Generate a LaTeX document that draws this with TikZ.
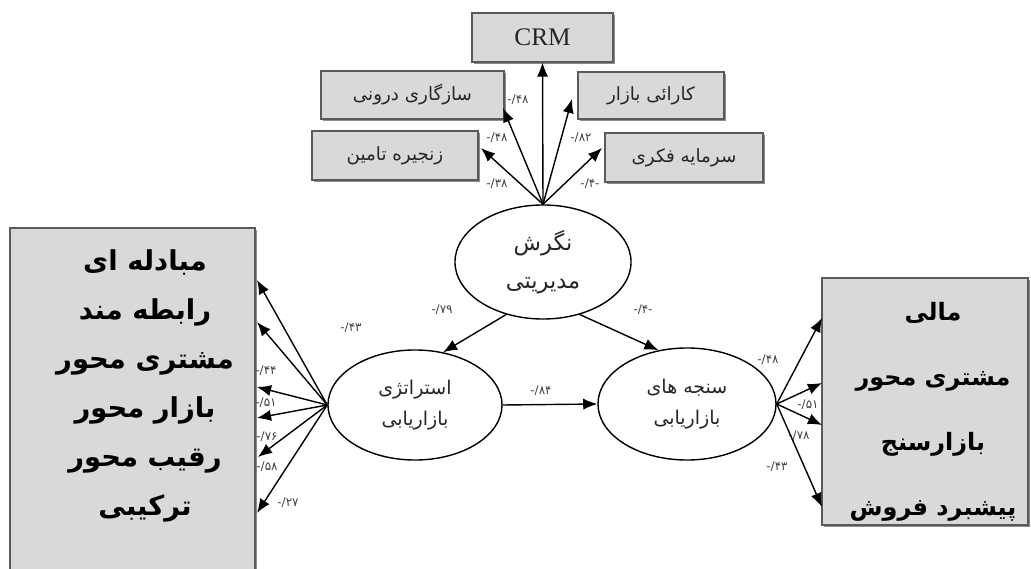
\documentclass[tikz,border=0pt]{standalone}
\usepackage{fontspec}
\usetikzlibrary{arrows.meta,shapes.geometric,shadows}
\TeXXeTstate=1
\newfontfamily\fa[Script=Arabic]{DejaVu Sans}
\newfontfamily\numf{DejaVu Sans}
\newfontfamily\tnr{Liberation Serif}
\definecolor{boxfill}{RGB}{217,217,217}
\definecolor{boxline}{RGB}{90,90,90}
\tikzset{
  shadowed/.style={drop shadow={shadow xshift=1.6pt,shadow yshift=-1.6pt,fill=black!45,opacity=1}},
  smallbox/.style={shadowed,draw=boxline,fill=boxfill,line width=0.8pt,inner sep=0pt,
    font=\fa\fontsize{13}{15}\selectfont,text=black!85},
  bigbox/.style={shadowed,draw=boxline,fill=boxfill,line width=0.8pt,inner sep=0pt},
  latent/.style={ellipse,draw=black,line width=1pt,fill=white,inner sep=0pt,align=center,text=black!85},
  arr/.style={line width=1pt,-{Latex[length=10pt,width=8pt]}},
  coef/.style={font=\numf\fontsize{8.5}{9}\selectfont,text=black!75,inner sep=1pt},
  bigtext/.style={align=center,text=black,inner sep=0pt}
}
\begin{document}
\begin{tikzpicture}[x=0.025cm,y=-0.025cm]
\useasboundingbox (0,0) rectangle (1031,569);

% top indicator boxes
\node[smallbox,minimum width=3.525cm,minimum height=1.225cm] (crm) at (542.5,37.5)
  {\tnr\fontsize{18}{20}\selectfont CRM};
\node[smallbox,minimum width=4.575cm,minimum height=1.2cm] (saz) at (412.5,95)
  {\beginR سازگاری درونی\endR};
\node[smallbox,minimum width=3.65cm,minimum height=1.175cm] (kar) at (651,95.5)
  {\beginR کارائی بازار\endR};
\node[smallbox,minimum width=4.15cm,minimum height=1.225cm] (zan) at (395,155.5)
  {\beginR زنجیره تامین\endR};
\node[smallbox,minimum width=3.95cm,minimum height=1.225cm] (sar) at (684,157.5)
  {\beginR سرمایه فکری\endR};

% latent variables
\node[latent,minimum width=4.4cm,minimum height=2.85cm,font=\fa\fontsize{16}{27}\selectfont] (neg) at (543,262)
  {\beginR نگرش\endR\\\beginR مدیریتی\endR};
\node[latent,minimum width=4.35cm,minimum height=2.75cm,font=\fa\fontsize{13.5}{22}\selectfont] (str) at (415,405)
  {\beginR استراتژی\endR\\\beginR بازاریابی\endR};
\node[latent,minimum width=4.45cm,minimum height=2.8cm,font=\fa\fontsize{13.5}{22}\selectfont] (san) at (687,404)
  {\beginR سنجه های\endR\\\beginR بازاریابی\endR};

% left big box
\node[bigbox,minimum width=6.125cm,minimum height=9.5cm] (lbox) at (132.5,418) {};
\node[bigtext,font=\fa\bfseries\fontsize{19.5}{34.9}\selectfont] (ltext) at (145,386)
  {\beginR مبادله ای\endR\\\beginR رابطه مند\endR\\\beginR مشتری محور\endR\\
   \beginR بازار محور\endR\\\beginR رقیب محور\endR\\\beginR ترکیبی\endR};

% right big box
\node[bigbox,minimum width=5.15cm,minimum height=6.175cm] (rbox) at (925,401.5) {};
\node[bigtext,font=\fa\bfseries\fontsize{17}{46.2}\selectfont] (rtext) at (933,412)
  {\beginR مالی\endR\\\beginR مشتری محور\endR\\\beginR بازارسنج\endR\\\beginR پیشبرد فروش\endR};

% target coordinates
\coordinate (tsaz) at (503,108);
\coordinate (tzan) at (481,148);
\coordinate (tkar) at (572,99);
\coordinate (tsar) at (602,148);
\coordinate (l1) at (257,280);
\coordinate (l2) at (257,322);
\coordinate (l3) at (257,387);
\coordinate (l4) at (257,418);
\coordinate (l5) at (258,457);
\coordinate (l6) at (257,513);
\coordinate (r1) at (822,318);
\coordinate (r2) at (822,383);
\coordinate (r3) at (822,425);
\coordinate (r4) at (822,507);

% top fan
\draw[arr] (neg.north) -- (crm.south);
\draw[arr] (neg.north) -- (tsaz);
\draw[arr] (neg.north) -- (tzan);
\draw[arr] (neg.north) -- (tkar);
\draw[arr] (neg.north) -- (tsar);

% structural paths
\draw[arr] (neg.235) -- (str.62);
\draw[arr] (neg.305) -- (san.118);
\draw[arr] (str.east) -- (san.west);

% left fan
\foreach \t in {l1,l2,l3,l4,l5,l6} \draw[arr] (str.west) -- (\t);
% right fan
\foreach \t in {r1,r2,r3,r4} \draw[arr] (san.east) -- (\t);

% coefficients
\node[coef] (c1) at (518,100) {-/۴۸};
\node[coef] (c2) at (497,138) {-/۴۸};
\node[coef] (c3) at (497,184) {-/۳۸};
\node[coef] (c4) at (581,138) {-/۸۲};
\node[coef] (c5) at (590,184) {-/۴-};
\node[coef] (c6) at (442,310) {-/۷۹};
\node[coef] (c7) at (643,310) {-/۴-};
\node[coef] (c8) at (541,391) {-/۸۴};
\node[coef] (c9) at (351,328) {-/۴۳};
\node[coef] (c10) at (266,371) {-/۴۴};
\node[coef] (c11) at (266,403) {-/۵۱};
\node[coef] (c12) at (267,437) {-/۷۶};
\node[coef] (c13) at (267,467) {-/۵۸};
\node[coef] (c14) at (288,503) {-/۲۷};
\node[coef] (c15) at (768,360) {-/۴۸};
\node[coef] (c16) at (808,405) {-/۵۱};
\node[coef] (c17) at (799,436) {-/۷۸};
\node[coef] (c18) at (777,467) {-/۴۳};
\end{tikzpicture}
\end{document}
